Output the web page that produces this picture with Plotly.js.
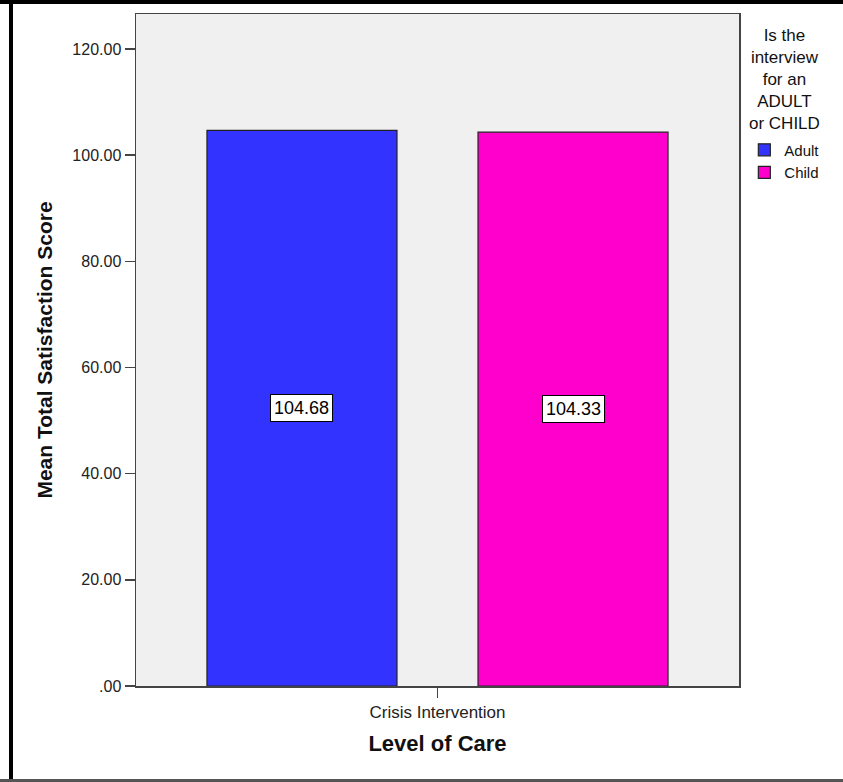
<!DOCTYPE html>
<html>
<head>
<meta charset="utf-8">
<script src="https://cdn.plot.ly/plotly-3.0.1.min.js"></script>
<style>
  html, body { margin: 0; padding: 0; background: #fff; }
  #wrap { position: relative; width: 843px; height: 782px; overflow: hidden; }
  #chart { position: absolute; left: 0; top: 0; width: 843px; height: 782px; }
  .frame { position: absolute; pointer-events: none; }
</style>
</head>
<body>
<div id="wrap">
  <div id="chart"></div>
  <div class="frame" style="left:0;top:0;width:843px;height:4px;background:#000;"></div>
  <div class="frame" style="left:9px;top:0;width:4px;height:782px;background:#000;"></div>
  <div class="frame" style="left:0;top:779px;width:843px;height:3px;background:#555;"></div>
</div>
<script>
// ---- data ----
const categories = ["Crisis Intervention"];
const seriesNames = ["Adult", "Child"];
const adultValues = [104.68];
const childValues = [104.33];
const yTickVals = [0, 20, 40, 60, 80, 100, 120];
const yTickText = [".00", "20.00", "40.00", "60.00", "80.00", "100.00", "120.00"];
const legendTitle = "Is the<br>interview<br>for an<br>ADULT<br>or CHILD";

// ---- styles ----
const colors = ["#3333FF", "#FF00CC"];
const FONT = "Liberation Sans, Arial, sans-serif";
const W = 843, H = 782;
const margin = {l: 136, r: 104, t: 14, b: 96};
const plotW = W - margin.l - margin.r;
const bargap = 0.101;
const bargroupgap = 0.299;

const seriesValues = [adultValues, childValues];
const traces = seriesValues.map((vals, i) => ({
  type: "bar",
  name: seriesNames[i],
  x: categories,
  y: vals,
  marker: {color: colors[i], line: {color: "#222", width: 1.2}},
  hoverinfo: "skip"
}));

// value labels centred in each bar
const groupW = plotW * (1 - bargap);
const annotations = [];
seriesValues.forEach((vals, i) => {
  vals.forEach((v, j) => {
    annotations.push({
      xref: "x", yref: "y",
      x: categories[j], y: v / 2,
      xshift: (i - (seriesValues.length - 1) / 2) * groupW / seriesValues.length,
      text: v.toFixed(2),
      showarrow: false,
      font: {family: FONT, size: 18, color: "#000"},
      bgcolor: "#fff",
      bordercolor: "#000",
      borderwidth: 1,
      borderpad: 3
    });
  });
});

// legend heading, each line centred
annotations.push({
  xref: "paper", yref: "paper",
  x: 1.076, xanchor: "center",
  y: 0.985, yanchor: "top",
  text: legendTitle,
  align: "center",
  showarrow: false,
  font: {family: FONT, size: 17, color: "#111"}
});

const layout = {
  width: W, height: H,
  margin: margin,
  paper_bgcolor: "#fff",
  plot_bgcolor: "#F0F0F0",
  barmode: "group",
  bargap: bargap,
  bargroupgap: bargroupgap,
  font: {family: FONT, color: "#222"},
  xaxis: {
    type: "category",
    range: [-0.5, 0.5],
    showline: true, mirror: true, linecolor: "#444", linewidth: 1.5,
    ticks: "outside", ticklen: 10, tickcolor: "#444", tickwidth: 1.5,
    tickfont: {family: FONT, size: 17, color: "#222"},
    showgrid: false, zeroline: false,
    title: {text: "Level of Care", font: {family: FONT, size: 22, color: "#111", weight: "bold"}, standoff: 14},
    fixedrange: true
  },
  yaxis: {
    range: [0, 126.6],
    tickvals: yTickVals, ticktext: yTickText,
    showline: true, mirror: true, linecolor: "#444", linewidth: 1.5,
    ticks: "outside", ticklen: 10, tickcolor: "#444", tickwidth: 1.5,
    tickfont: {family: FONT, size: 16, color: "#222"},
    showgrid: false, zeroline: false,
    title: {text: "Mean Total Satisfaction Score", font: {family: FONT, size: 21, color: "#111", weight: "bold"}, standoff: 14},
    fixedrange: true
  },
  legend: {
    x: 1.076, xanchor: "center",
    y: 0.822, yanchor: "top",
    bgcolor: "rgba(0,0,0,0)",
    font: {family: FONT, size: 15, color: "#111"},
    itemwidth: 30,
    tracegroupgap: 0
  },
  annotations: annotations,
  showlegend: true
};

Plotly.newPlot("chart", traces, layout, {displayModeBar: false, staticPlot: true});
</script>
</body>
</html>
